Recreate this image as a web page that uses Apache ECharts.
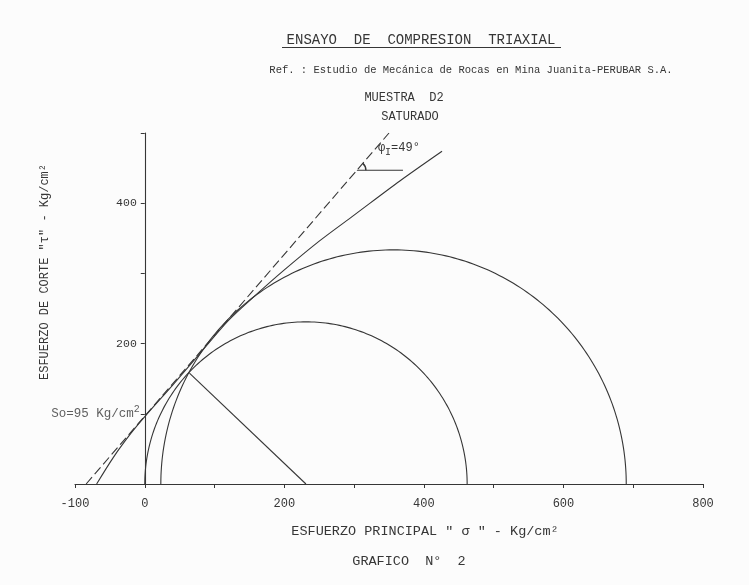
<!DOCTYPE html>
<html><head><meta charset="utf-8">
<script src="https://cdn.jsdelivr.net/npm/echarts@6/dist/echarts.min.js"></script>
<style>html,body{margin:0;padding:0;background:#fcfcfc}#c{width:749px;height:585px}</style>
</head><body><div id="c"></div>
<script>
// ---- data ----
const xLabelValues = [-100, 0, 200, 400, 600, 800];
const yLabelValues = [200, 400];
// Mohr circles (sigma3, sigma1) in Kg/cm2
const circleSigma3 = [0, 23];
const circleSigma1 = [462, 690];
// straight Coulomb envelope (dashed), So = 95, phi = 49
const coulombSigma = [-84, 350];
const coulombTau = [0, 500];
// curved failure envelope (solid)
const envelopeSigma = [-69, -45, -20, 0, 40, 80, 120, 160, 200, 250, 300, 366, 426];
const envelopeTau   = [0, 38, 72, 96, 141, 187, 233, 270, 305, 346, 383, 432, 474];
// radius from centre of small circle to tangent point
const radiusSigma = [231, 64];
const radiusTau = [0, 158];
// cohesion point
const soSigma = [0];
const soTau = [100];
// angle annotation: vertex (sigma, tau) and end of horizontal leg
const angleVertexSigma = [304];
const angleVertexTau = [447];
const angleLegEndSigma = [370];

const INK = '#363636';
const FONT = '"Liberation Mono","DejaVu Sans Mono",monospace';

const X_MIN = -100, X_MAX = 800, Y_MIN = 0, Y_MAX = 500;
const GRID = {left: 75, right: 46, top: 133, bottom: 101};
const gridW = 749 - GRID.left - GRID.right;
// y axis drawn at sigma = 0
const yAxisOffset = -(0 - X_MIN) * gridW / (X_MAX - X_MIN);

const chart = echarts.init(document.getElementById('c'), null, {renderer: 'canvas'});
const zip = (a, b) => a.map((v, i) => [v, b[i]]);

chart.setOption({
  backgroundColor: '#fcfcfc',
  animation: false,
  grid: Object.assign({containLabel: false}, GRID),
  xAxis: {
    type: 'value', min: X_MIN, max: X_MAX, interval: 100,
    axisLine: {show: true, onZero: true, lineStyle: {color: INK, width: 1.1}},
    axisTick: {show: true, length: 4, lineStyle: {color: INK}},
    axisLabel: {color: INK, fontFamily: FONT, fontSize: 12, margin: 14,
      formatter: v => xLabelValues.includes(v) ? String(v) : ''},
    splitLine: {show: false}
  },
  yAxis: {
    type: 'value', min: Y_MIN, max: Y_MAX, interval: 100,
    offset: yAxisOffset,
    axisLine: {show: true, onZero: false, lineStyle: {color: INK, width: 1.1}},
    axisTick: {show: true, length: 4, lineStyle: {color: INK}},
    axisLabel: {color: INK, fontFamily: FONT, fontSize: 11.5, margin: 8,
      formatter: v => yLabelValues.includes(v) ? String(v) : ''},
    splitLine: {show: false}
  },
  series: [
    { // Mohr circles
      type: 'custom', silent: true, clip: false,
      data: zip(circleSigma3, circleSigma1),
      encode: {x: 0, y: 1},
      renderItem: function (params, api) {
        const s3 = api.value(0), s1 = api.value(1);
        const c = (s1 + s3) / 2, r = (s1 - s3) / 2;
        const pts = [];
        for (let k = 0; k <= 180; k++) {
          const t = Math.PI * k / 180;
          pts.push(api.coord([c + r * Math.cos(t), r * Math.sin(t)]));
        }
        return {type: 'polyline', shape: {points: pts},
          style: {stroke: INK, fill: null, lineWidth: 1.1}};
      }
    },
    { // dashed straight envelope
      type: 'line', silent: true, symbol: 'none',
      data: zip(coulombSigma, coulombTau),
      lineStyle: {color: INK, width: 1.1, type: [9, 4]}
    },
    { // curved envelope
      type: 'line', silent: true, symbol: 'none', smooth: 0.3,
      data: zip(envelopeSigma, envelopeTau),
      lineStyle: {color: INK, width: 1.1}
    },
    { // radius line
      type: 'line', silent: true, symbol: 'none',
      data: zip(radiusSigma, radiusTau),
      lineStyle: {color: INK, width: 1.1}
    },
    { // So label
      type: 'scatter', silent: true, symbolSize: 0,
      data: zip(soSigma, soTau),
      label: {show: true, position: 'left', distance: 5, color: INK, fontFamily: FONT,
        formatter: '{a|So=95 Kg/cm}{s|2}',
        rich: {a: {fontSize: 12.5, fontFamily: FONT, color: INK},
               s: {fontSize: 10, fontFamily: FONT, color: INK, verticalAlign: 'top', padding: [0, 0, 9, 0]}}}
    },
    { // angle annotation
      type: 'custom', silent: true, clip: false,
      data: angleVertexSigma.map((s, i) => [s, angleVertexTau[i], angleLegEndSigma[i]]),
      encode: {x: 0, y: 1},
      renderItem: function (params, api) {
        const v = api.coord([api.value(0), api.value(1)]);
        const e = api.coord([api.value(2), api.value(1)]);
        const p0 = api.coord([coulombSigma[0], coulombTau[0]]);
        const p1 = api.coord([coulombSigma[1], coulombTau[1]]);
        const ang = Math.atan2(p1[1] - p0[1], p1[0] - p0[0]);
        return {type: 'group', children: [
          {type: 'line', shape: {x1: v[0], y1: v[1], x2: e[0], y2: e[1]},
           style: {stroke: INK, lineWidth: 1.1}},
          {type: 'arc', shape: {cx: v[0], cy: v[1], r: 9, startAngle: ang, endAngle: 0, clockwise: true},
           style: {stroke: INK, lineWidth: 1.4, fill: null}},
          {type: 'text', x: v[0] + 21, y: v[1] - 32,
           style: {text: '{p|φ}{s|I}{p|=49°}', fill: INK,
             rich: {p: {fontSize: 12, fontFamily: FONT, fill: INK},
                    s: {fontSize: 10, fontFamily: FONT, fill: INK, padding: [9, 0, 0, 0]}}}}
        ]};
      }
    }
  ],
  graphic: [
    {type: 'text', x: 421, y: 40, style: {text: 'ENSAYO  DE  COMPRESION  TRIAXIAL', font: '14px ' + FONT, fill: INK, textAlign: 'center', textVerticalAlign: 'middle'}},
    {type: 'line', shape: {x1: 282, y1: 47.5, x2: 561, y2: 47.5}, style: {stroke: INK, lineWidth: 1.2}},
    {type: 'text', x: 471, y: 70, style: {text: 'Ref. : Estudio de Mecánica de Rocas en Mina Juanita-PERUBAR S.A.', font: '10.5px ' + FONT, fill: INK, textAlign: 'center', textVerticalAlign: 'middle'}},
    {type: 'text', x: 404, y: 98, style: {text: 'MUESTRA  D2', font: '12px ' + FONT, fill: INK, textAlign: 'center', textVerticalAlign: 'middle'}},
    {type: 'text', x: 410, y: 117, style: {text: 'SATURADO', font: '12px ' + FONT, fill: INK, textAlign: 'center', textVerticalAlign: 'middle'}},
    {type: 'text', x: 425, y: 531, style: {text: 'ESFUERZO PRINCIPAL " σ " - Kg/cm²', font: '13.5px ' + FONT, fill: INK, textAlign: 'center', textVerticalAlign: 'middle'}},
    {type: 'text', x: 409, y: 561, style: {text: 'GRAFICO  N°  2', font: '13.5px ' + FONT, fill: INK, textAlign: 'center', textVerticalAlign: 'middle'}},
    {type: 'text', x: 45, y: 272, rotation: Math.PI / 2, style: {text: 'ESFUERZO DE CORTE "τ" - Kg/cm²', font: '12px ' + FONT, fill: INK, textAlign: 'center', textVerticalAlign: 'middle'}}
  ]
});
</script>
</body></html>
